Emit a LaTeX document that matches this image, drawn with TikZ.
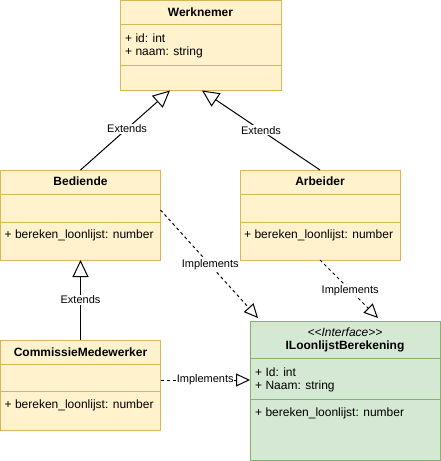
\documentclass[tikz,border=0pt]{standalone}
\usepackage{fontspec}
\setmainfont{Liberation Sans}
\usetikzlibrary{arrows.meta,calc}
\definecolor{yfill}{HTML}{FFF2CC}
\definecolor{ydraw}{HTML}{D6B656}
\definecolor{gfill}{HTML}{D5E8D4}
\definecolor{gdraw}{HTML}{82B366}
\tikzset{
  ycls/.style={draw=ydraw, fill=yfill, line width=1pt, inner sep=0pt, outer sep=0pt, anchor=north west},
  gcls/.style={draw=gdraw, fill=gfill, line width=1pt, inner sep=0pt, outer sep=0pt, anchor=north west},
  ydiv/.style={draw=ydraw, line width=1pt},
  gdiv/.style={draw=gdraw, line width=1pt},
  title/.style={font=\fontsize{12}{14}\selectfont\bfseries, inner sep=0pt},
  stereo/.style={font=\fontsize{12}{14}\selectfont\itshape, inner sep=0pt},
  attr/.style={font=\fontsize{12}{14}\selectfont, inner sep=0pt, anchor=west},
  lbl/.style={font=\fontsize{11}{13}\selectfont, fill=white, inner sep=1pt},
  extends/.style={line width=1pt, -{Triangle[open, length=17pt, width=16pt, fill=white]}},
  implements/.style={line width=1pt, dash pattern=on 3pt off 3pt, -{Triangle[open, length=14pt, width=13pt, fill=white]}},
}
\begin{document}
\begin{tikzpicture}[x=1pt, y=-1pt]
\useasboundingbox (0,0) rectangle (441,461);
% Werknemer
\node[ycls, minimum width=161pt, minimum height=90pt] (wn) at (120,0.5) {};
\draw[ydiv] ($(wn.north west)+(0,24)$) -- ($(wn.north east)+(0,24)$);
\draw[ydiv] ($(wn.north west)+(0,65)$) -- ($(wn.north east)+(0,65)$);
\node[title] (wnt) at ($(wn.north)+(0,12)$) {Werknemer};
\node[attr] (wna1) at ($(wn.north west)+(5,38)$) {+ id: int};
\node[attr] (wna2) at ($(wn.north west)+(5,52)$) {+ naam: string};
% Bediende
\node[ycls, minimum width=160pt, minimum height=90pt] (bed) at (0.5,170) {};
\draw[ydiv] ($(bed.north west)+(0,24)$) -- ($(bed.north east)+(0,24)$);
\draw[ydiv] ($(bed.north west)+(0,52)$) -- ($(bed.north east)+(0,52)$);
\node[title] (bedt) at ($(bed.north)+(0,11)$) {Bediende};
\node[attr] (bedm) at ($(bed.north west)+(4,65)$) {+ bereken\_loonlijst: number};
% Arbeider
\node[ycls, minimum width=160pt, minimum height=90pt] (arb) at (240,170) {};
\draw[ydiv] ($(arb.north west)+(0,24)$) -- ($(arb.north east)+(0,24)$);
\draw[ydiv] ($(arb.north west)+(0,52)$) -- ($(arb.north east)+(0,52)$);
\node[title] (arbt) at ($(arb.north)+(0,11)$) {Arbeider};
\node[attr] (arbm) at ($(arb.north west)+(4,65)$) {+ bereken\_loonlijst: number};
% CommissieMedewerker
\node[ycls, minimum width=160pt, minimum height=90pt] (com) at (0.5,340) {};
\draw[ydiv] ($(com.north west)+(0,24)$) -- ($(com.north east)+(0,24)$);
\draw[ydiv] ($(com.north west)+(0,51)$) -- ($(com.north east)+(0,51)$);
\node[title] (comt) at ($(com.north)+(0,12)$) {CommissieMedewerker};
\node[attr] (comm) at ($(com.north west)+(4,65)$) {+ bereken\_loonlijst: number};
% ILoonlijstBerekening
\node[gcls, minimum width=190pt, minimum height=139pt] (ilb) at (250,321) {};
\draw[gdiv] ($(ilb.north west)+(0,37)$) -- ($(ilb.north east)+(0,37)$);
\draw[gdiv] ($(ilb.north west)+(0,78)$) -- ($(ilb.north east)+(0,78)$);
\node[stereo] (ilbs) at ($(ilb.north)+(0,11)$) {{<}{<}Interface{>}{>}};
\node[title] (ilbt) at ($(ilb.north)+(0,25)$) {ILoonlijstBerekening};
\node[attr] (ilba1) at ($(ilb.north west)+(5,51)$) {+ Id: int};
\node[attr] (ilba2) at ($(ilb.north west)+(5,65)$) {+ Naam: string};
\node[attr] (ilbm) at ($(ilb.north west)+(5,92)$) {+ bereken\_loonlijst: number};
% connector end points
\coordinate (wnL) at ($(wn.south west)+(50,0)$);
\coordinate (wnR) at ($(wn.south west)+(82,0)$);
\coordinate (bedE) at ($(bed.north east)+(0,40)$);
\coordinate (ilbL) at ($(ilb.north west)+(8,-3)$);
\coordinate (ilbR) at ($(ilb.north west)+(128,-3)$);
\coordinate (arbS) at (arb.south);
\coordinate (comE) at ($(com.north east)+(0,40)$);
\coordinate (ilbW) at ($(ilb.north west)+(0,59)$);
% connectors
\draw[extends] (bed.north) -- node[lbl, pos=0.52] {Extends} (wnL);
\draw[extends] (arb.north) -- node[lbl, pos=0.5] {Extends} (wnR);
\draw[extends] (com.north) -- node[lbl, pos=0.5] {Extends} (bed.south);
\draw[implements] (bedE) -- node[lbl, pos=0.51] {Implements} (ilbL);
\draw[implements] (arbS) -- node[lbl, pos=0.52] {Implements} (ilbR);
\draw[implements] (comE) -- node[lbl, pos=0.5, inner sep=0pt] {Implements} (ilbW);
\end{tikzpicture}
\end{document}
